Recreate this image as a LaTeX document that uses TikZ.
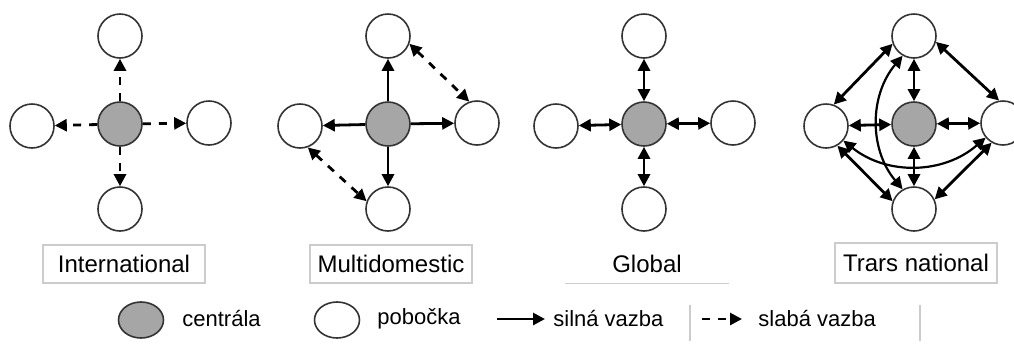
\documentclass[tikz,border=0pt]{standalone}
\usepackage{fontspec}
\setmainfont{Liberation Sans}
\usetikzlibrary{arrows.meta,shapes.geometric}

\begin{document}
\begin{tikzpicture}[x=0.5pt,y=-0.5pt,
    hq/.style={circle,draw=black!80,fill=black!35,line width=0.8pt,minimum size=22pt,inner sep=0pt},
    branch/.style={circle,draw=black!80,fill=white,line width=0.8pt,minimum size=22pt,inner sep=0pt},
    link/.style={line width=1.4pt,-{Triangle[length=6pt,width=6pt]}},
    links/.style={line width=1.4pt,{Triangle[length=6pt,width=6pt]}-{Triangle[length=6pt,width=6pt]}},
    weak/.style={dash pattern=on 4pt off 4pt},
    title/.style={draw=black!20,line width=0.6pt,minimum width=81pt,minimum height=19pt,inner sep=0pt,font=\fontsize{12}{14}\selectfont},
    legend/.style={font=\fontsize{11}{13}\selectfont,anchor=west,inner sep=0pt}]
      \useasboundingbox (0,0) rectangle (1014,344);
      \clip (0,0) rectangle (1014,344);
      \foreach \p/\x in {1/120,2/388,3/644,4/914} {
        \node[hq] (c\p) at (\x,124) {};
        \node[branch] (t\p) at (\x,36) {};
        \node[branch] (b\p) at (\x,209) {};
        \node[branch] (l\p) at (\x-88,126) {};
        \node[branch] (r\p) at (\x+89,123) {};
      }
      \foreach \o in {t,b,l,r} {
        \draw[link,weak] (c1) -- (\o1);
        \draw[link] (c2) -- (\o2);
        \draw[links] (c3) -- (\o3);
        \draw[links] (c4) -- (\o4);
      }
      \draw[links,weak] (t2.-20) -- (r2.110);
      \draw[links,weak] (l2.-70) -- (b2.160);
      \draw[links] (t4.200) -- (l4.70);
      \draw[links] (t4.-15) -- (r4.100);
      \draw[links] (l4.-60) -- (b4.160);
      \draw[links] (b4.25) -- (r4.-120);
      \draw[links,line width=1.1pt] (t4.240) to[bend right=40] (b4.120);
      \draw[links,line width=1.1pt] (l4.-40) to[bend right=40] (r4.220);

      \node[title] (n1) at (124,264) {International};
      \node[title] (n2) at (391,264) {Multidomestic};
      \node[title,draw=none] (n3) at (647,264) {Global};
      \draw[black!20,line width=0.6pt] (n3.south west) -- (n3.south east);
      \node[title,minimum height=20pt] (n4) at (916,263) {Trars national};

      \node[hq,shape=ellipse,minimum width=22.5pt,minimum height=18pt] (lhq) at (141,320) {};
      \node[legend] (lhqt) at (182,319) {centrála};
      \node[branch,shape=ellipse,minimum width=22.5pt,minimum height=18pt] (lbr) at (337,320) {};
      \node[legend] (lbrt) at (377,319) {pobočka};
      \coordinate (s0) at (497,319);
      \coordinate (s1) at (545,319);
      \draw[link] (s0) -- (s1);
      \node[legend] (st) at (553,319) {silná vazba};
      \draw[black!20,line width=0.6pt] (690,305) -- (690,341);
      \coordinate (w0) at (702,319);
      \coordinate (w1) at (742,319);
      \draw[link,weak] (w0) -- (w1);
      \node[legend] (wt) at (758,319) {slabá vazba};
      \draw[black!20,line width=0.6pt] (920,305) -- (920,341);
    \end{tikzpicture}
\end{document}
